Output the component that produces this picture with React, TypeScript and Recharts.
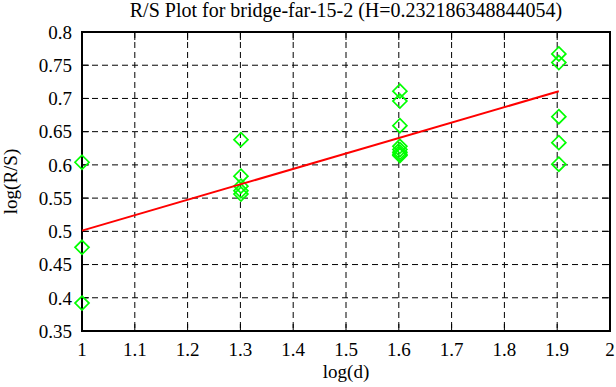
import { ComposedChart, Scatter, XAxis, YAxis, CartesianGrid, ReferenceArea } from "recharts";

// log(d) for each window size, and the log(R/S) values measured at it
const logD = [1, 1.30103, 1.60206, 1.90309];
const rsAt10 = [0.604, 0.476, 0.392];
const rsAt20 = [0.638, 0.583, 0.568, 0.561, 0.556];
const rsAt40 = [0.711, 0.696, 0.659, 0.628, 0.623, 0.619, 0.616, 0.614];
const rsAt80 = [0.767, 0.754, 0.6725, 0.6335, 0.601];

// fitted line, H = slope
const fitX = [1, 1.90309];
const fitY = [0.5011, 0.7108];

const xTicks = [1, 1.1, 1.2, 1.3, 1.4, 1.5, 1.6, 1.7, 1.8, 1.9, 2];
const yTicks = [0.35, 0.4, 0.45, 0.5, 0.55, 0.6, 0.65, 0.7, 0.75, 0.8];

const title = "R/S Plot for bridge-far-15-2 (H=0.232186348844054)";

const points = [rsAt10, rsAt20, rsAt40, rsAt80].flatMap((vals, i) =>
  vals.map((v) => ({ x: logD[i], y: v }))
);
const fitData = fitX.map((x, i) => ({ x, y: fitY[i] }));

const FONT = "'Liberation Serif', 'Times New Roman', serif";
const tickStyle = { fill: "#000", fontSize: 19, fontFamily: FONT };

const Diamond = (p: any) => {
  const { cx, cy } = p;
  const r = 7;
  return (
    <path
      d={`M${cx},${cy - r}L${cx + r},${cy}L${cx},${cy + r}L${cx - r},${cy}Z`}
      fill="none"
      stroke="#00ff00"
      strokeWidth={1.7}
    />
  );
};

const yLabel = (p: any) => {
  const { x, y, height } = p.viewBox;
  const cx = x + 17;
  const cy = y + height / 2;
  return (
    <text x={cx} y={cy} transform={`rotate(-90 ${cx} ${cy})`} textAnchor="middle" fontSize={19} fontFamily={FONT} fill="#000">
      log(R/S)
    </text>
  );
};

const xLabel = (p: any) => {
  const { x, y, width } = p.viewBox;
  return (
    <text x={x + width / 2} y={y + 47} textAnchor="middle" fontSize={19} fontFamily={FONT} fill="#000">
      log(d)
    </text>
  );
};

const tickLine = { stroke: "#000", strokeWidth: 1 };

export default function App() {
  return (
    <div style={{ position: "relative", width: 616, height: 387, background: "#fff", fontFamily: FONT }}>
      <style>{"body{margin:0}"}</style>
      <div
        style={{
          position: "absolute",
          left: 82,
          width: 528,
          top: 0,
          textAlign: "center",
          fontSize: 20,
          lineHeight: "21px",
          whiteSpace: "nowrap",
          color: "#000",
        }}
      >
        {title}
      </div>
      <ComposedChart width={616} height={387} margin={{ top: 31, right: 5, bottom: 0, left: 0 }}>
        <CartesianGrid xAxisId="b" yAxisId="l" stroke="#000" strokeDasharray="6 4" />
        <XAxis
          xAxisId="b"
          type="number"
          dataKey="x"
          domain={[1, 2]}
          ticks={xTicks}
          height={56}
          tick={tickStyle}
          tickSize={-7}
          tickMargin={19}
          axisLine={false}
          tickLine={tickLine}
          label={{ content: xLabel }}
        />
        <XAxis
          xAxisId="t"
          orientation="top"
          type="number"
          dataKey="x"
          domain={[1, 2]}
          ticks={xTicks}
          height={1}
          tickFormatter={() => ""}
          tickSize={-8}
          axisLine={false}
          tickLine={tickLine}
        />
        <YAxis
          yAxisId="l"
          type="number"
          dataKey="y"
          domain={[0.35, 0.8]}
          ticks={yTicks}
          width={82}
          tick={tickStyle}
          tickSize={-7}
          tickMargin={17}
          axisLine={false}
          tickLine={tickLine}
          label={{ content: yLabel }}
        />
        <YAxis
          yAxisId="r"
          orientation="right"
          type="number"
          dataKey="y"
          domain={[0.35, 0.8]}
          ticks={yTicks}
          width={1}
          tickFormatter={() => ""}
          tickSize={-8}
          axisLine={false}
          tickLine={tickLine}
        />
        {/* plot frame */}
        <ReferenceArea
          xAxisId="b"
          yAxisId="l"
          x1={1}
          x2={2}
          y1={0.35}
          y2={0.8}
          fill="none"
          fillOpacity={0}
          stroke="#000"
          strokeWidth={2}
          strokeOpacity={1}
          ifOverflow="visible"
        />
        {/* invisible series so the mirrored frame axes get a domain */}
        <Scatter
          xAxisId="t"
          yAxisId="r"
          data={points}
          shape={() => null}
          isAnimationActive={false}
        />
        <Scatter
          xAxisId="b"
          yAxisId="l"
          data={points}
          shape={Diamond}
          isAnimationActive={false}
        />
        <Scatter
          xAxisId="b"
          yAxisId="l"
          data={fitData}
          line={{ stroke: "#ff0000", strokeWidth: 2 }}
          shape={() => null}
          isAnimationActive={false}
        />
      </ComposedChart>
    </div>
  );
}
